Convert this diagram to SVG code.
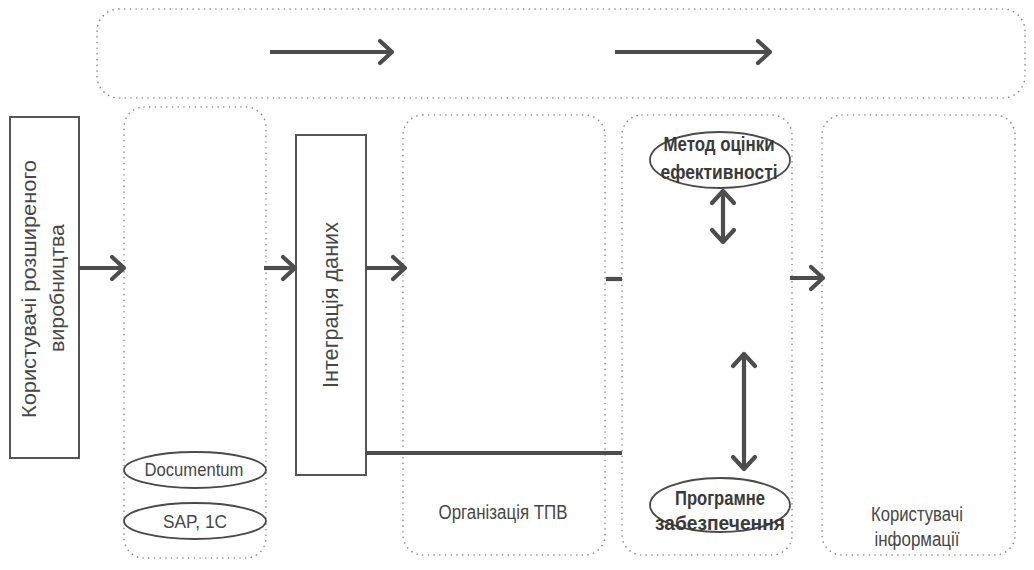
<svg xmlns="http://www.w3.org/2000/svg" width="1034" height="570" viewBox="0 0 1034 570">
<defs>
<style>
.dot{fill:none;stroke:#8c8c8c;stroke-width:1.6;stroke-dasharray:0.1 5.6;stroke-linecap:round}
.box{fill:#fff;stroke:#555;stroke-width:2}
.ell{fill:#fff;stroke:#4a4a4a;stroke-width:1.8}
.arr{fill:none;stroke:#4d4d4d;stroke-width:4.2;stroke-linecap:butt}
.t{font-family:"Liberation Sans",Arial,sans-serif;fill:#474747;text-anchor:middle}
.b{font-family:"Liberation Sans",Arial,sans-serif;fill:#3a3a3a;font-weight:bold;text-anchor:middle}
</style>
<marker id="ah" viewBox="-16 -15 19 30" refX="0" refY="0" markerWidth="19" markerHeight="30" markerUnits="userSpaceOnUse" orient="auto-start-reverse">
<path d="M-12,-11 L0,0 L-12,11" fill="none" stroke="#4d4d4d" stroke-width="4.2" stroke-linecap="round" stroke-linejoin="round"/>
</marker>
</defs>
<rect width="1034" height="570" fill="#fff"/>

<g id="top-bar"><rect class="dot" x="97" y="9" width="928" height="89" rx="22"/></g>

<g id="users-extended">
<rect class="box" x="10" y="117" width="69" height="341"/>
<text class="t" font-size="21" transform="translate(36,289) rotate(-90)" x="0" y="0" textLength="258" lengthAdjust="spacingAndGlyphs">Користувачі розширеного</text>
<text class="t" font-size="21" transform="translate(64,288) rotate(-90)" x="0" y="0" textLength="128" lengthAdjust="spacingAndGlyphs">виробництва</text>
</g>

<g id="col-systems">
<rect class="dot" x="124" y="107" width="142" height="451" rx="20"/>
<ellipse class="ell" cx="195" cy="470" rx="71" ry="18"/>
<text class="t" font-size="19" x="194" y="476" textLength="99" lengthAdjust="spacingAndGlyphs">Documentum</text>
<ellipse class="ell" cx="195" cy="521" rx="71" ry="18"/>
<text class="t" font-size="19" x="195" y="528" textLength="64" lengthAdjust="spacingAndGlyphs">SAP, 1C</text>
</g>

<g id="integration">
<rect class="box" x="296" y="135" width="70" height="340"/>
<text class="t" font-size="22" transform="translate(338,305) rotate(-90)" x="0" y="0" textLength="166" lengthAdjust="spacingAndGlyphs">Інтеграція даних</text>
</g>

<g id="col-organization">
<rect class="dot" x="403" y="115" width="202" height="440" rx="20"/>
<text class="t" font-size="20" x="503" y="519" textLength="129" lengthAdjust="spacingAndGlyphs">Організація ТПВ</text>
</g>

<g id="col-methods">
<rect class="dot" x="622" y="115" width="170" height="440" rx="20"/>
<g id="method">
<ellipse class="ell" cx="720" cy="160" rx="70" ry="28"/>
<text class="b" font-size="20" x="719" y="151" textLength="111" lengthAdjust="spacingAndGlyphs">Метод оцінки</text>
<text class="b" font-size="20" x="719" y="179" textLength="117" lengthAdjust="spacingAndGlyphs">ефективності</text>
</g>
<g id="software">
<ellipse class="ell" cx="720" cy="505" rx="70" ry="27"/>
<text class="b" font-size="20" x="720" y="505" textLength="90" lengthAdjust="spacingAndGlyphs">Програмне</text>
<text class="b" font-size="20" x="720" y="530" textLength="130" lengthAdjust="spacingAndGlyphs">забезпечення</text>
</g>
</g>

<g id="col-info-users">
<rect class="dot" x="822" y="115" width="193" height="440" rx="20"/>
<text class="t" font-size="20" x="917" y="521" textLength="92" lengthAdjust="spacingAndGlyphs">Користувачі</text>
<text class="t" font-size="20" x="917" y="546" textLength="85" lengthAdjust="spacingAndGlyphs">інформації</text>
</g>

<g id="connectors">
<line class="arr" x1="270" y1="52" x2="392" y2="52" marker-end="url(#ah)"/>
<line class="arr" x1="615" y1="52" x2="770" y2="52" marker-end="url(#ah)"/>
<line class="arr" x1="79" y1="268" x2="124" y2="268" marker-end="url(#ah)"/>
<line class="arr" x1="264" y1="268" x2="295" y2="268" marker-end="url(#ah)"/>
<line class="arr" x1="366" y1="268" x2="405" y2="268" marker-end="url(#ah)"/>
<line class="arr" x1="606" y1="279" x2="622" y2="279"/>
<line class="arr" x1="366" y1="453" x2="622" y2="453"/>
<line class="arr" x1="790" y1="278" x2="823" y2="278" marker-end="url(#ah)"/>
<line class="arr" x1="723" y1="191" x2="723" y2="242" marker-start="url(#ah)" marker-end="url(#ah)"/>
<line class="arr" x1="744" y1="354" x2="744" y2="469" marker-start="url(#ah)" marker-end="url(#ah)"/>
</g>
</svg>
